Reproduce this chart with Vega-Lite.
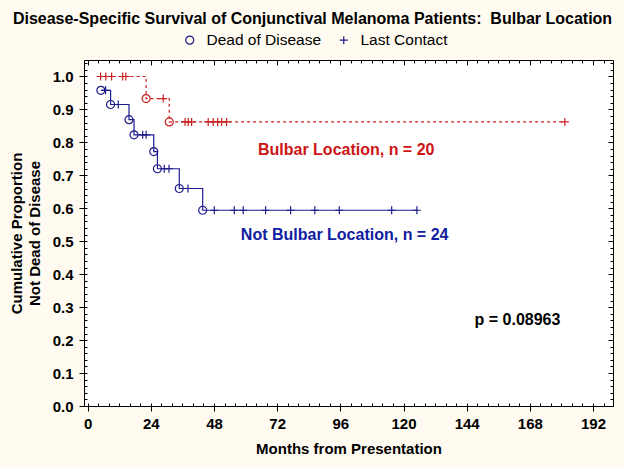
{
  "$schema": "https://vega.github.io/schema/vega-lite/v6.json",
  "width": 529,
  "height": 346,
  "autosize": {"type": "none"},
  "padding": {"left": 84, "top": 60, "right": 11, "bottom": 62},
  "background": "#FFFBF0",
  "title": {
    "text": "Disease-Specific Survival of Conjunctival Melanoma Patients:\u00a0 Bulbar Location",
    "font": "Liberation Sans",
    "fontSize": 16,
    "fontWeight": "bold",
    "color": "black",
    "anchor": "middle",
    "frame": "group",
    "dx": -36,
    "offset": 5
  },
  "config": {
    "view": {"fill": "white", "stroke": "black", "strokeWidth": 1},
    "font": "Liberation Sans",
    "axis": {
      "domain": false,
      "grid": false,
      "tickColor": "black",
      "tickWidth": 1,
      "labelFont": "Liberation Sans",
      "labelFontSize": 15,
      "labelFontWeight": "bold",
      "labelColor": "black",
      "titleFont": "Liberation Sans",
      "titleFontSize": 15,
      "titleFontWeight": "bold",
      "titleColor": "black"
    }
  },
  "data": {
    "values": [
      {"group": "Not Bulbar", "month": 5.0, "surv": 0.958, "kind": "Dead of Disease"},
      {"group": "Not Bulbar", "month": 6.8, "surv": 0.958, "kind": "Last Contact"},
      {"group": "Not Bulbar", "month": 8.7, "surv": 0.915, "kind": "Dead of Disease"},
      {"group": "Not Bulbar", "month": 11.6, "surv": 0.915, "kind": "Last Contact"},
      {"group": "Not Bulbar", "month": 15.7, "surv": 0.869, "kind": "Dead of Disease"},
      {"group": "Not Bulbar", "month": 17.6, "surv": 0.823, "kind": "Dead of Disease"},
      {"group": "Not Bulbar", "month": 20.9, "surv": 0.823, "kind": "Last Contact"},
      {"group": "Not Bulbar", "month": 22.2, "surv": 0.823, "kind": "Last Contact"},
      {"group": "Not Bulbar", "month": 25.1, "surv": 0.772, "kind": "Dead of Disease"},
      {"group": "Not Bulbar", "month": 26.5, "surv": 0.72, "kind": "Dead of Disease"},
      {"group": "Not Bulbar", "month": 29.1, "surv": 0.72, "kind": "Last Contact"},
      {"group": "Not Bulbar", "month": 30.9, "surv": 0.72, "kind": "Last Contact"},
      {"group": "Not Bulbar", "month": 34.8, "surv": 0.66, "kind": "Dead of Disease"},
      {"group": "Not Bulbar", "month": 38.1, "surv": 0.66, "kind": "Last Contact"},
      {"group": "Not Bulbar", "month": 43.7, "surv": 0.594, "kind": "Dead of Disease"},
      {"group": "Not Bulbar", "month": 48.1, "surv": 0.594, "kind": "Last Contact"},
      {"group": "Not Bulbar", "month": 55.7, "surv": 0.594, "kind": "Last Contact"},
      {"group": "Not Bulbar", "month": 59.1, "surv": 0.594, "kind": "Last Contact"},
      {"group": "Not Bulbar", "month": 67.6, "surv": 0.594, "kind": "Last Contact"},
      {"group": "Not Bulbar", "month": 77.1, "surv": 0.594, "kind": "Last Contact"},
      {"group": "Not Bulbar", "month": 86.3, "surv": 0.594, "kind": "Last Contact"},
      {"group": "Not Bulbar", "month": 95.6, "surv": 0.594, "kind": "Last Contact"},
      {"group": "Not Bulbar", "month": 115.5, "surv": 0.594, "kind": "Last Contact"},
      {"group": "Not Bulbar", "month": 125.1, "surv": 0.594, "kind": "Last Contact"},
      {"group": "Bulbar", "month": 4.9, "surv": 1.0, "kind": "Last Contact"},
      {"group": "Bulbar", "month": 6.9, "surv": 1.0, "kind": "Last Contact"},
      {"group": "Bulbar", "month": 9.1, "surv": 1.0, "kind": "Last Contact"},
      {"group": "Bulbar", "month": 13.3, "surv": 1.0, "kind": "Last Contact"},
      {"group": "Bulbar", "month": 14.5, "surv": 1.0, "kind": "Last Contact"},
      {"group": "Bulbar", "month": 22.2, "surv": 0.933, "kind": "Dead of Disease"},
      {"group": "Bulbar", "month": 28.7, "surv": 0.933, "kind": "Last Contact"},
      {"group": "Bulbar", "month": 31.0, "surv": 0.862, "kind": "Dead of Disease"},
      {"group": "Bulbar", "month": 37.0, "surv": 0.862, "kind": "Last Contact"},
      {"group": "Bulbar", "month": 38.2, "surv": 0.862, "kind": "Last Contact"},
      {"group": "Bulbar", "month": 39.5, "surv": 0.862, "kind": "Last Contact"},
      {"group": "Bulbar", "month": 45.8, "surv": 0.862, "kind": "Last Contact"},
      {"group": "Bulbar", "month": 47.7, "surv": 0.862, "kind": "Last Contact"},
      {"group": "Bulbar", "month": 49.4, "surv": 0.862, "kind": "Last Contact"},
      {"group": "Bulbar", "month": 50.9, "surv": 0.862, "kind": "Last Contact"},
      {"group": "Bulbar", "month": 52.8, "surv": 0.862, "kind": "Last Contact"},
      {"group": "Bulbar", "month": 181.3, "surv": 0.862, "kind": "Last Contact"}
    ]
  },
  "resolve": {"axis": {"x": "independent", "y": "independent"}},
  "layer": [
    {
      "mark": {"type": "line", "interpolate": "step-after", "strokeWidth": 1.2},
      "encoding": {
        "x": {
          "field": "month", "type": "quantitative",
          "scale": {"domain": [-1.4, 199.6], "nice": false, "zero": false},
          "axis": {
            "orient": "bottom",
            "values": [0, 24, 48, 72, 96, 120, 144, 168, 192],
            "tickSize": 5,
            "labelPadding": 5,
            "title": "Months from Presentation",
            "titlePadding": 10
          }
        },
        "y": {
          "field": "surv", "type": "quantitative",
          "scale": {"domain": [0, 1.05], "nice": false},
          "axis": {
            "orient": "left",
            "values": [0, 0.1, 0.2, 0.3, 0.4, 0.5, 0.6, 0.7, 0.8, 0.9, 1.0],
            "format": ".1f",
            "tickSize": 5,
            "labelPadding": 6,
            "title": ["Cumulative Proportion", "Not Dead of Disease"],
            "titleLineHeight": 18,
            "titlePadding": 10
          }
        },
        "color": {
          "field": "group", "type": "nominal",
          "scale": {"domain": ["Bulbar", "Not Bulbar"], "range": ["#C81E1E", "#1C1C8C"]},
          "legend": null
        },
        "strokeDash": {
          "field": "group", "type": "nominal",
          "scale": {"domain": ["Bulbar", "Not Bulbar"], "range": [[3, 3], [1, 0]]},
          "legend": null
        },
        "order": {"field": "month"}
      }
    },
    {
      "mark": {"type": "point", "filled": false, "strokeWidth": 1.2, "opacity": 1},
      "encoding": {
        "x": {
          "field": "month", "type": "quantitative",
          "axis": {
            "orient": "bottom",
            "values": [0, 4, 8, 12, 16, 20, 24, 28, 32, 36, 40, 44, 48, 52, 56, 60, 64, 68, 72, 76, 80, 84, 88, 92, 96, 100, 104, 108, 112, 116, 120, 124, 128, 132, 136, 140, 144, 148, 152, 156, 160, 164, 168, 172, 176, 180, 184, 188, 192, 196],
            "tickSize": -3,
            "labels": false,
            "title": null
          }
        },
        "y": {
          "field": "surv", "type": "quantitative",
          "axis": {
            "orient": "left",
            "values": [0, 0.02, 0.04, 0.06, 0.08, 0.1, 0.12, 0.14, 0.16, 0.18, 0.2, 0.22, 0.24, 0.26, 0.28, 0.3, 0.32, 0.34, 0.36, 0.38, 0.4, 0.42, 0.44, 0.46, 0.48, 0.5, 0.52, 0.54, 0.56, 0.58, 0.6, 0.62, 0.64, 0.66, 0.68, 0.7, 0.72, 0.74, 0.76, 0.78, 0.8, 0.82, 0.84, 0.86, 0.88, 0.9, 0.92, 0.94, 0.96, 0.98, 1.0, 1.02, 1.04],
            "tickSize": -3,
            "labels": false,
            "title": null
          }
        },
        "color": {"field": "group", "type": "nominal", "legend": null},
        "shape": {
          "field": "kind", "type": "nominal",
          "scale": {"domain": ["Dead of Disease", "Last Contact"], "range": ["circle", "M-1,0H1M0,-1V1"]},
          "legend": {
            "title": null,
            "orient": "none",
            "legendX": 98,
            "legendY": -28,
            "direction": "horizontal",
            "padding": 0,
            "columnPadding": 14,
            "labelOffset": 9,
            "labelFont": "Liberation Sans",
            "labelFontSize": 15.5,
            "labelColor": "black",
            "symbolSize": 64,
            "symbolStrokeWidth": 1.2,
            "symbolStrokeColor": "#1C1C8C",
            "symbolFillColor": "transparent"
          }
        },
        "size": {"value": 64}
      }
    },
    {
      "data": {"values": [{"label": "Bulbar Location, n = 20"}]},
      "mark": {"type": "text", "align": "left", "baseline": "middle", "font": "Liberation Sans", "fontSize": 16, "fontWeight": "bold", "color": "#CC1414"},
      "encoding": {
        "text": {"field": "label"},
        "x": {
          "datum": 64.7, "type": "quantitative",
          "axis": {
            "orient": "top",
            "values": [0, 4, 8, 12, 16, 20, 24, 28, 32, 36, 40, 44, 48, 52, 56, 60, 64, 68, 72, 76, 80, 84, 88, 92, 96, 100, 104, 108, 112, 116, 120, 124, 128, 132, 136, 140, 144, 148, 152, 156, 160, 164, 168, 172, 176, 180, 184, 188, 192, 196],
            "tickSize": -3,
            "labels": false,
            "title": null
          }
        },
        "y": {
          "datum": 0.776, "type": "quantitative",
          "axis": {
            "orient": "right",
            "values": [0, 0.02, 0.04, 0.06, 0.08, 0.1, 0.12, 0.14, 0.16, 0.18, 0.2, 0.22, 0.24, 0.26, 0.28, 0.3, 0.32, 0.34, 0.36, 0.38, 0.4, 0.42, 0.44, 0.46, 0.48, 0.5, 0.52, 0.54, 0.56, 0.58, 0.6, 0.62, 0.64, 0.66, 0.68, 0.7, 0.72, 0.74, 0.76, 0.78, 0.8, 0.82, 0.84, 0.86, 0.88, 0.9, 0.92, 0.94, 0.96, 0.98, 1.0, 1.02, 1.04],
            "tickSize": -3,
            "labels": false,
            "title": null
          }
        }
      }
    },
    {
      "data": {"values": [{"label": "Not Bulbar Location, n = 24"}]},
      "mark": {"type": "text", "align": "left", "baseline": "middle", "font": "Liberation Sans", "fontSize": 16, "fontWeight": "bold", "color": "#1020A0"},
      "encoding": {
        "text": {"field": "label"},
        "x": {
          "datum": 58.2, "type": "quantitative",
          "axis": {
            "orient": "top",
            "values": [0, 24, 48, 72, 96, 120, 144, 168, 192],
            "tickSize": -5,
            "labels": false,
            "title": null
          }
        },
        "y": {
          "datum": 0.518, "type": "quantitative",
          "axis": {
            "orient": "right",
            "values": [0, 0.1, 0.2, 0.3, 0.4, 0.5, 0.6, 0.7, 0.8, 0.9, 1.0],
            "tickSize": -5,
            "labels": false,
            "title": null
          }
        }
      }
    },
    {
      "data": {"values": [{"label": "p = 0.08963"}]},
      "mark": {"type": "text", "align": "left", "baseline": "middle", "font": "Liberation Sans", "fontSize": 16, "fontWeight": "bold", "color": "black"},
      "encoding": {
        "text": {"field": "label"},
        "x": {"datum": 147, "type": "quantitative", "axis": null},
        "y": {"datum": 0.26, "type": "quantitative", "axis": null}
      }
    }
  ]
}
